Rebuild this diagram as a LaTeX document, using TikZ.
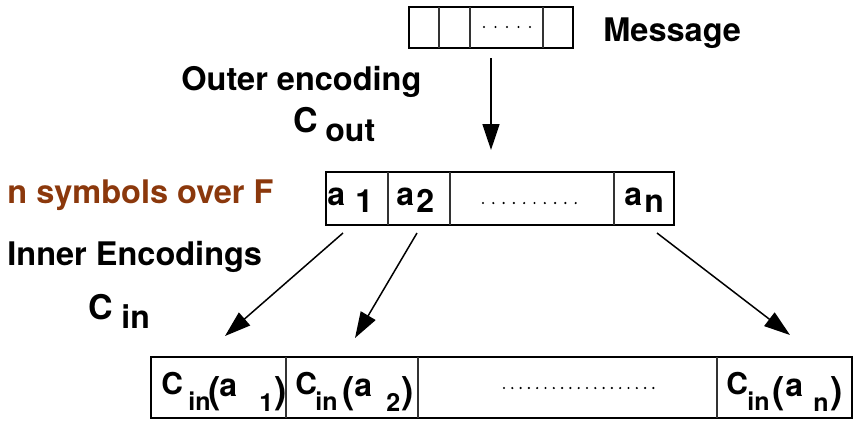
\documentclass[tikz,border=0pt]{standalone}
\usepackage{fontspec}
\setmainfont{TeX Gyre Heros}
\usetikzlibrary{arrows.meta}
\definecolor{symbrown}{RGB}{139,56,12}
\tikzset{
  txt/.style={anchor=base west, inner sep=0pt},
  lbl/.style={txt, font=\bfseries\fontsize{16.25}{18}\selectfont},
  big/.style={txt, font=\bfseries\fontsize{17}{19}\selectfont},
  bsub/.style={txt, font=\bfseries\fontsize{16}{18}\selectfont},
  mid/.style={txt, font=\bfseries\fontsize{16}{18}\selectfont},
  cfont/.style={txt, font=\bfseries\fontsize{15}{17}\selectfont},
  afont/.style={txt, font=\bfseries\fontsize{16}{18}\selectfont},
  sfont/.style={txt, font=\bfseries\fontsize{12.5}{14}\selectfont},
  pfont/.style={txt, font=\bfseries\fontsize{18.5}{20}\selectfont},
  frame/.style={draw, line width=1.1pt, inner sep=0pt},
  divider/.style={line width=0.6pt, draw=black!80},
  arr/.style={line width=0.75pt, -{Triangle[length=13pt,width=8.5pt]}},
  dot/.style={fill=black, inner sep=0pt, minimum size=1.2pt, circle}
}
\begin{document}
\begin{tikzpicture}[x=0.5pt,y=-0.5pt]
\useasboundingbox (0,0) rectangle (853,420);

% message box
\node[frame, minimum width=82pt, minimum height=20.5pt] (msg) at (491,27.5) {};
\draw[divider] (439,7) -- (439,48) (470,7) -- (470,48) (543,7) -- (543,48);
\foreach \i in {0,...,4} \node[dot] (md\i) at (484+11.5*\i,27) {};
\node[lbl] (msglab) at (603,41) {Message};

% outer encoding
\node[lbl] (outer) at (181,90) {Outer encoding};
\node[big] (cout) at (293,132) {C};
\node[bsub] (coutsub) at (325,141) {out};

% middle box
\node[frame, minimum width=174pt, minimum height=26.5pt] (sym) at (500,198.5) {};
\draw[divider] (388,172) -- (388,225) (450,172) -- (450,225) (614,172) -- (614,225);
\node[mid] (a1) at (327,205) {a};
\node[mid] (a1s) at (355,212) {1};
\node[mid] (a2) at (396,205) {a};
\node[mid] (a2s) at (416,212) {2};
\node[mid] (an) at (624,205) {a};
\node[mid] (ans) at (644,212) {n};
\foreach \i in {0,...,9} \node[dot] (sd\i) at (483+10.3*\i,203) {};
\node[lbl, text=symbrown] (nsym) at (7,203) {n symbols over F};

% inner encodings
\node[lbl] (inner) at (7,265) {Inner Encodings};
\node[big] (cin) at (88,319) {C};
\node[bsub] (cinsub) at (121,328) {in};

% bottom box
\node[frame, minimum width=350.5pt, minimum height=30.5pt] (code) at (501.5,387.5) {};
\draw[divider] (286,357) -- (286,418) (418,357) -- (418,418) (717,357) -- (717,418);
\node[cfont] (b1c) at (161,394) {C};
\node[sfont] (b1i) at (188,410) {in};
\node[pfont] (b1p) at (208,403) {(};
\node[afont] (b1a) at (219,396) {a};
\node[sfont] (b1s) at (259,411) {1};
\node[pfont] (b1q) at (274,403) {)};
\node[cfont] (b2c) at (295,394) {C};
\node[sfont] (b2i) at (315,410) {in};
\node[pfont] (b2p) at (342,403) {(};
\node[afont] (b2a) at (354,396) {a};
\node[sfont] (b2s) at (386,411) {2};
\node[pfont] (b2q) at (401,403) {)};
\node[cfont] (b4c) at (726,394) {C};
\node[sfont] (b4i) at (747,410) {in};
\node[pfont] (b4p) at (772,403) {(};
\node[afont] (b4a) at (785,396) {a};
\node[sfont] (b4s) at (813,411) {n};
\node[pfont] (b4q) at (830,403) {)};
\foreach \i in {0,...,18} \node[dot] (bd\i) at (504+8.3*\i,388) {};

% arrows
\coordinate (m0) at (491,58);
\coordinate (m1) at (491,150);
\coordinate (s1) at (343,233);
\coordinate (t1) at (225,336);
\coordinate (s2) at (417,233);
\coordinate (t2) at (355,338);
\coordinate (s3) at (657,233);
\coordinate (t3) at (790,335);
\draw[arr] (m0) -- (m1);
\draw[arr] (s1) -- (t1);
\draw[arr] (s2) -- (t2);
\draw[arr] (s3) -- (t3);
\end{tikzpicture}
\end{document}
